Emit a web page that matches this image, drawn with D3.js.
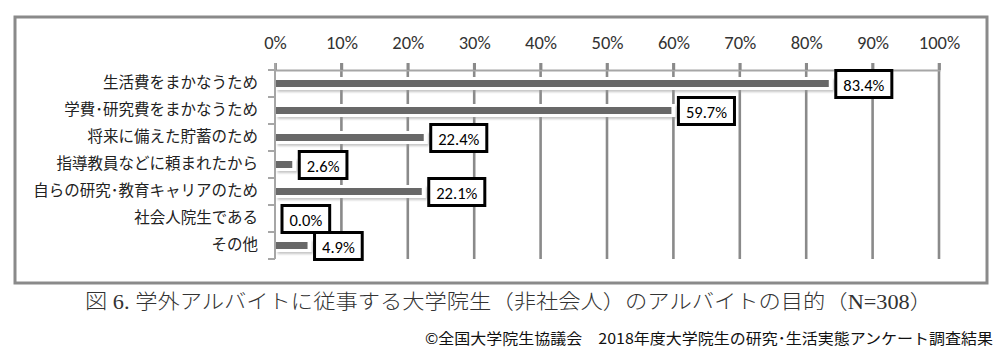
<!DOCTYPE html>
<html><head><meta charset="utf-8">
<script src="https://cdn.jsdelivr.net/npm/d3@7"></script>
<style>html,body{margin:0;padding:0;background:#fff;}svg{display:block;}</style>
</head><body>
<svg id="chart" width="1007" height="364"></svg>
<script>
const categories = ["生活費をまかなうため","学費･研究費をまかなうため","将来に備えた貯蓄のため","指導教員などに頼まれたから","自らの研究･教育キャリアのため","社会人院生である","その他"];
const values = [83.4, 59.7, 22.4, 2.6, 22.1, 0.0, 4.9];
const tickValues = [0,10,20,30,40,50,60,70,80,90,100];
const captionText = "図 6. 学外アルバイトに従事する大学院生（非社会人）のアルバイトの目的（N=308）";
const footerText = "©全国大学院生協議会　2018年度大学院生の研究･生活実態アンケート調査結果";

const svg = d3.select("#chart");
const defs = svg.append("defs");
const f = defs.append("filter").attr("id","sh").attr("x","-5%").attr("y","-50%").attr("width","110%").attr("height","200%");
f.append("feDropShadow").attr("dx",1.5).attr("dy",2).attr("stdDeviation",1.2).attr("flood-color","#999").attr("flood-opacity",0.55);

const x = d3.scaleLinear().domain([0,100]).range([275,939]);
const y = d3.scaleBand().domain(categories).range([70,259]).padding(0);
const barH = 7;
const jp = "'Noto Sans CJK JP', sans-serif";
const num = "Carlito, 'Liberation Sans', Arial, sans-serif";

// outer frame
svg.append("rect").attr("x",15).attr("y",17).attr("width",972).attr("height",266)
  .attr("fill","#fff").attr("stroke","#8a8a8a").attr("stroke-width",3);

// gridlines
svg.append("g").selectAll("line").data(tickValues.slice(1)).join("line")
  .attr("x1",d=>x(d)).attr("x2",d=>x(d)).attr("y1",63).attr("y2",259)
  .attr("stroke","#8a8a8a").attr("stroke-width",2.6);

// top axis
const xAxis = d3.axisTop(x).tickValues(tickValues).tickFormat(d=>d+"%").tickSize(7).tickPadding(14);
const gx = svg.append("g").attr("transform","translate(0,70)").call(xAxis);
gx.select(".domain").attr("stroke","#a6a6a6").attr("stroke-width",2);
gx.selectAll(".tick line").attr("stroke","#8a8a8a").attr("stroke-width",2.6);
gx.selectAll(".tick text").attr("font-family",num).attr("font-size",18.5).attr("font-weight",400).attr("fill","#333");

// bars with white glow
const rows = categories.map((c,i)=>({c, v:values[i]}));
svg.append("g").selectAll("rect").data(rows.filter(d=>d.v>0)).join("rect")
  .attr("x",x(0)+1).attr("y",d=>y(d.c)+y.bandwidth()/2-barH/2-3)
  .attr("width",d=>x(d.v)-x(0)+3).attr("height",barH+6)
  .attr("fill","#fff").attr("filter","url(#sh)");
svg.append("g").selectAll("rect").data(rows.filter(d=>d.v>0)).join("rect")
  .attr("x",x(0)+1).attr("y",d=>y(d.c)+y.bandwidth()/2-barH/2)
  .attr("width",d=>x(d.v)-x(0)-1).attr("height",barH)
  .attr("fill","#686868");

// left axis
const yAxis = d3.axisLeft(y).tickSize(0).tickPadding(17);
const gy = svg.append("g").attr("transform","translate(275,0)").call(yAxis);
gy.select(".domain").remove();
gy.selectAll(".tick text").attr("font-family",jp).attr("font-size",15.5).attr("fill","#222");
svg.append("line").attr("x1",275).attr("x2",275).attr("y1",63).attr("y2",259)
  .attr("stroke","#a6a6a6").attr("stroke-width",2);
svg.append("g").selectAll("line").data(categories.map(c=>y(c)).concat([y.range()[1]])).join("line")
  .attr("x1",268).attr("x2",275).attr("y1",d=>d).attr("y2",d=>d)
  .attr("stroke","#a6a6a6").attr("stroke-width",2);

// value label boxes
const lg = svg.append("g");
rows.forEach(d=>{
  const cy = y(d.c)+y.bandwidth()/2;
  const g = lg.append("g");
  const t = g.append("text").attr("font-family",num).attr("font-size",16.5).attr("font-weight",400).attr("fill","#000")
    .attr("dominant-baseline","central").text(d.v.toFixed(1)+"%");
  const w = t.node().getComputedTextLength();
  const bx = x(d.v)+7, bw = w+15, bh = 27;
  g.insert("rect","text").attr("x",bx).attr("y",cy-bh/2+0.5).attr("width",bw).attr("height",bh)
    .attr("fill","#fff").attr("stroke","#000").attr("stroke-width",3);
  t.attr("x",bx+bw/2).attr("y",cy+1.5).attr("text-anchor","middle");
});

// caption
svg.append("text").attr("x",85).attr("y",309).attr("font-family","'Liberation Serif', 'Noto Sans CJK JP', serif")
  .attr("font-size",20).attr("font-weight",300).attr("fill","#333")
  .attr("textLength",847).attr("lengthAdjust","spacingAndGlyphs").text(captionText);
// footer
svg.append("text").attr("x",425).attr("y",344).attr("font-family",jp)
  .attr("font-size",15).attr("fill","#111")
  .attr("textLength",568).attr("lengthAdjust","spacingAndGlyphs").text(footerText);
</script>
</body></html>
